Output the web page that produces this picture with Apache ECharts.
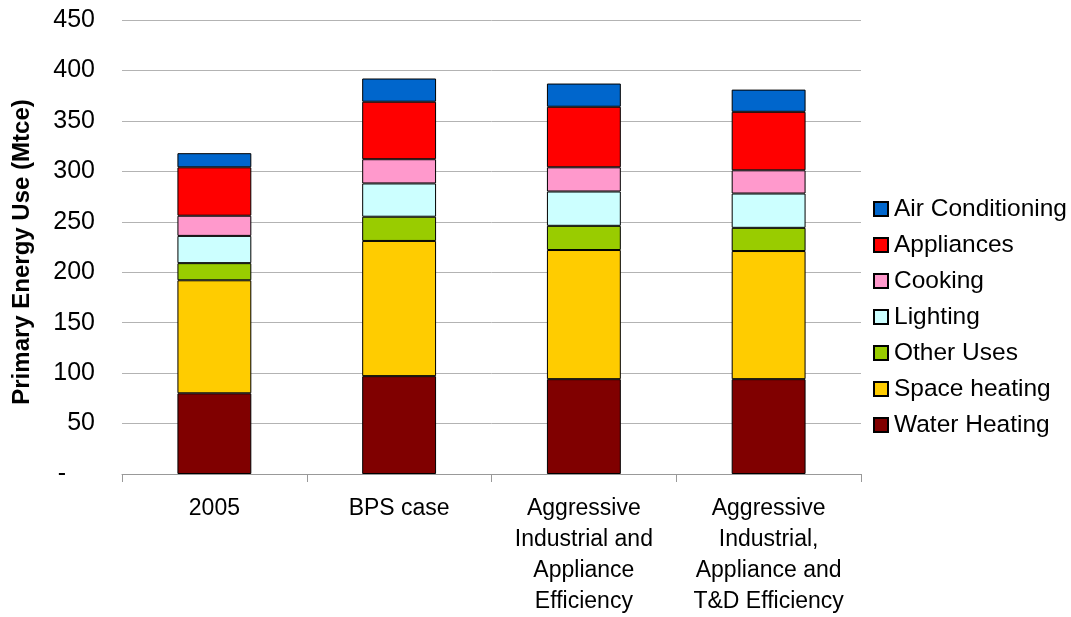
<!DOCTYPE html>
<html>
<head>
<meta charset="utf-8">
<script src="https://cdn.jsdelivr.net/npm/echarts@6/dist/echarts.min.js"></script>
<style>
html,body{margin:0;padding:0;background:#fff;}
#chart{width:1071px;height:617px;}
</style>
</head>
<body>
<div id="chart"></div>
<script>
var categories = ['2005', 'BPS case', 'Aggressive\nIndustrial and\nAppliance\nEfficiency', 'Aggressive\nIndustrial,\nAppliance and\nT&D Efficiency'];
var waterHeating    = [80, 97, 94, 94];
var spaceHeating    = [112, 134, 128, 127];
var otherUses       = [17, 24, 24, 23];
var lighting        = [27, 33, 34, 34];
var cooking         = [20, 24, 24, 23];
var appliances      = [48, 57, 60, 58];
var airConditioning = [14, 23, 23, 22];
var seriesNames = ['Water Heating', 'Space heating', 'Other Uses', 'Lighting', 'Cooking', 'Appliances', 'Air Conditioning'];
var seriesColors = ['#800000', '#FFCC00', '#99CC00', '#CCFFFF', '#FF99CC', '#FF0000', '#0066CC'];
var seriesData = [waterHeating, spaceHeating, otherUses, lighting, cooking, appliances, airConditioning];
var yTicks = { min: 0, max: 450, interval: 50 };

var FONT = '"Liberation Sans", Arial, sans-serif';
var chart = echarts.init(document.getElementById('chart'), null, { renderer: 'canvas' });

var series = seriesNames.map(function (name, i) {
  return {
    name: name,
    type: 'bar',
    stack: 'total',
    barWidth: '40%',
    data: seriesData[i],
    itemStyle: { color: seriesColors[i], borderColor: '#000', borderWidth: 1 },
    emphasis: { disabled: true }
  };
});

chart.setOption({
  animation: false,
  backgroundColor: '#fff',
  textStyle: { fontFamily: FONT },
  grid: { left: 122, right: 210, top: 20, bottom: 143, containLabel: false },
  legend: {
    orient: 'vertical',
    left: 868,
    top: 191,
    itemWidth: 14,
    itemHeight: 14,
    itemGap: 10,
    icon: 'rect',
    data: seriesNames.slice().reverse(),
    textStyle: { fontFamily: FONT, fontSize: 24.5, color: '#000', lineHeight: 26, padding: [0, 0, 0, 1] },
    selectedMode: false
  },
  xAxis: {
    type: 'category',
    data: categories,
    axisLine: { lineStyle: { color: '#999', width: 1 } },
    axisTick: { show: true, length: 8, lineStyle: { color: '#999' } },
    axisLabel: {
      color: '#000', fontFamily: FONT, fontSize: 23, lineHeight: 31, margin: 19, interval: 0
    },
    splitLine: { show: false }
  },
  yAxis: {
    type: 'value',
    min: yTicks.min,
    max: yTicks.max,
    interval: yTicks.interval,
    name: 'Primary Energy Use (Mtce)',
    nameLocation: 'middle',
    nameGap: 88,
    nameTextStyle: { fontFamily: FONT, fontSize: 24, fontWeight: 'bold', color: '#000', padding: [0, 10, 0, 0] },
    axisLine: { show: false },
    axisTick: { show: false },
    axisLabel: {
      color: '#000', fontFamily: FONT, fontSize: 25, margin: 27,
      formatter: function (v) { return v === 0 ? '{z|-}' : String(v); },
      rich: { z: { fontFamily: FONT, fontSize: 25, color: '#000', padding: [0, 29, 0, 0] } }
    },
    splitLine: { show: true, lineStyle: { color: '#b3b3b3', width: 1 } }
  },
  series: series
});
</script>
</body>
</html>
